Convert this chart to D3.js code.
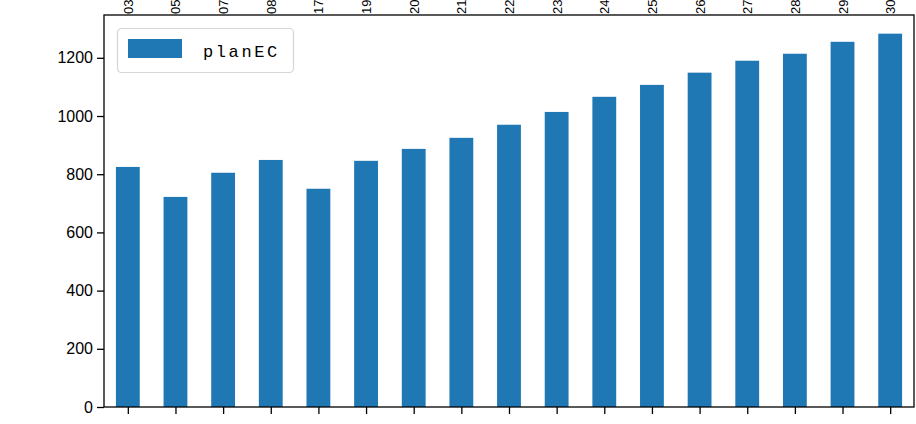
<!DOCTYPE html>
<html><head><meta charset="utf-8">
<script src="https://cdn.jsdelivr.net/npm/d3@7"></script>
<style>body{margin:0;background:#fff}svg{display:block}</style>
</head><body>
<script>
const categories = ["03","05","07","08","17","19","20","21","22","23","24","25","26","27","28","29","30"];
const planEC = [825,722,805,849,750,846,887,925,970,1014,1066,1107,1149,1190,1214,1255,1283];
const yTicks = [0,200,400,600,800,1000,1200];
const seriesName = "planEC";

const W = 916, H = 424;
const m = {left:104, right:2, top:15, bottom:17};
const svg = d3.select("body").append("svg").attr("width",W).attr("height",H);
const iw = W - m.left - m.right, ih = H - m.top - m.bottom;
const g = svg.append("g").attr("transform",`translate(${m.left},${m.top})`);

const x = d3.scaleLinear().domain([-0.5, categories.length-0.5]).range([0, iw]);
const y = d3.scaleLinear().domain([0, d3.max(planEC)*1.05]).range([ih, 0]);
const bw = x(0.25) - x(-0.25);

g.selectAll("rect.bar").data(planEC).enter().append("rect")
  .attr("class","bar")
  .attr("x",(d,i)=>x(i)-bw/2).attr("width",bw)
  .attr("y",d=>y(d)).attr("height",d=>ih-y(d))
  .attr("fill","#1f77b4");

const fontT = "'Liberation Sans', Arial, sans-serif";
const yAxis = g.append("g").call(d3.axisLeft(y).tickValues(yTicks).tickFormat(d3.format("d")).tickSize(7).tickPadding(4).tickSizeOuter(0));
yAxis.select(".domain").remove();
yAxis.selectAll("text").attr("font-size",16).attr("font-family",fontT).attr("fill","#000");
yAxis.selectAll("line").attr("stroke","#000").attr("stroke-width",1.3);

const xAxis = g.append("g").attr("transform",`translate(0,${ih})`)
  .call(d3.axisBottom(x).tickValues(d3.range(categories.length)).tickSize(7).tickFormat(""));
xAxis.select(".domain").remove();
xAxis.selectAll("line").attr("stroke","#000").attr("stroke-width",1.3);

// top tick labels (rotated)
g.append("g").selectAll("text").data(categories).enter().append("text")
  .attr("transform",(d,i)=>`translate(${x(i)+5},-1) rotate(-90)`)
  .attr("text-anchor","start")
  .attr("font-size",13).attr("font-family",fontT).attr("fill","#000")
  .text(d=>d);

g.append("rect").attr("x",0).attr("y",0).attr("width",iw).attr("height",ih)
  .attr("fill","none").attr("stroke","#000").attr("stroke-width",1.3);

// legend
const lg = svg.append("g").attr("transform","translate(117,28)");
lg.append("rect").attr("x",0.5).attr("y",0.5).attr("width",176).attr("height",44).attr("rx",4)
  .attr("fill","#fff").attr("fill-opacity",0.8).attr("stroke","#d6d6d6").attr("stroke-width",1.2);
lg.append("rect").attr("x",11).attr("y",11).attr("width",54).attr("height",19).attr("fill","#1f77b4");
lg.append("text").attr("x",86).attr("y",29).attr("font-size",17).attr("letter-spacing",2.6)
  .attr("font-family","'Liberation Mono', 'DejaVu Sans Mono', monospace").attr("fill","#000").text(seriesName);
</script>
</body></html>
